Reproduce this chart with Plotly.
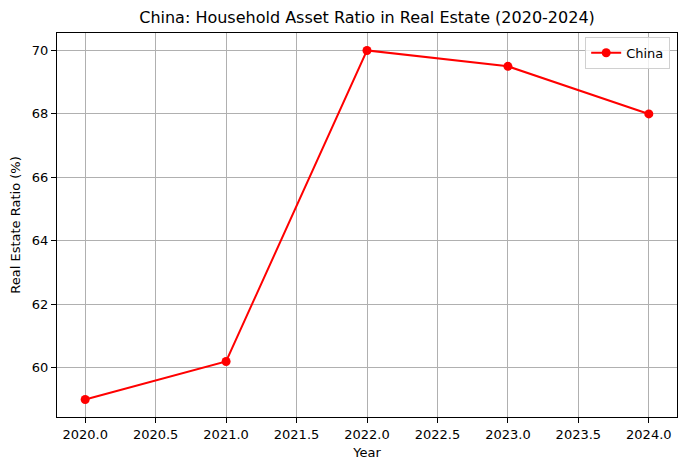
import plotly.graph_objects as go

years = [2020, 2021, 2022, 2023, 2024]
ratio = [59.0, 60.2, 70.0, 69.5, 68.0]
xticks = [2020.0, 2020.5, 2021.0, 2021.5, 2022.0, 2022.5, 2023.0, 2023.5, 2024.0]
xtick_labels = [f"{v:.1f}" for v in xticks]
yticks = [60, 62, 64, 66, 68, 70]

# page body has an 8px default margin; figure sized to fit the 687x470 window
W, H = 671, 454

fig = go.Figure()
fig.add_trace(go.Scatter(
    x=years, y=ratio, mode="lines+markers", name="China",
    line=dict(color="red", width=2), marker=dict(color="red", size=9),
))

axis_common = dict(
    showline=True, linecolor="black", linewidth=1, mirror=True,
    showgrid=True, gridcolor="#b0b0b0", gridwidth=1,
    ticks="outside", ticklen=5, tickcolor="black",
    tickfont=dict(size=13, color="black"), zeroline=False, automargin=False,
)

fig.update_layout(
    width=W, height=H,
    margin=dict(l=49, r=2, t=25, b=45, autoexpand=False),
    paper_bgcolor="white", plot_bgcolor="white",
    font=dict(family="DejaVu Sans", color="black"),
    title=dict(text="China: Household Asset Ratio in Real Estate (2020-2024)",
               x=(49 + 620 / 2) / W, xanchor="center", y=1 - 9 / H, yanchor="middle",
               font=dict(size=16)),
    xaxis=dict(axis_common, range=[2019.8, 2024.2], tickvals=xticks, ticktext=xtick_labels,
               title=dict(text="Year", font=dict(size=13), standoff=7)),
    yaxis=dict(axis_common, range=[58.45, 70.55], tickvals=yticks,
               title=dict(text="Real Estate Ratio (%)", font=dict(size=13), standoff=16)),
    showlegend=True,
    legend=dict(x=0.989, y=0.99, xanchor="right", yanchor="top",
                bordercolor="#d0d0d0", borderwidth=1, bgcolor="rgba(255,255,255,0.8)",
                font=dict(size=13), tracegroupgap=0),
)

fig.write_html("out.html")
